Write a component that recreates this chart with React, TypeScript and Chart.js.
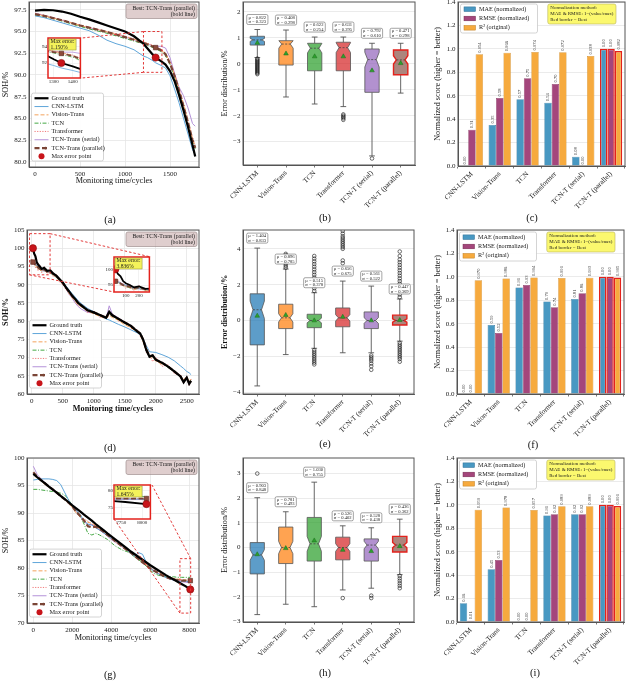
import React, { useEffect, useRef } from "react";
import { Chart, registerables } from "chart.js";

Chart.register(...registerables);

const SERIF = "'Liberation Serif', 'Times New Roman', 'DejaVu Serif', serif";

// ---------------- shared categories ----------------
const BOX_CATEGORIES = ["CNN-LSTM", "Vision-Trans", "TCN", "Transformer", "TCN-T (serial)", "TCN-T (parallel)"];
const LINE_LABELS = ["Ground truth", "CNN-LSTM", "Vision-Trans", "TCN", "Transformer", "TCN-Trans (serial)", "TCN-Trans (parallel)"];
const MAX_ERR_LABEL = "Max error point";
const BEST_TEXT = ["Best: TCN-Trans (parallel)", "(bold line)"];
const NOTE_TEXT = ["Normalization method:", "MAE & RMSE: 1\u2212(value/max)", "Red border = Best"];
const BAR_LABELS = ["MAE (normalized)", "RMSE (normalized)", "R\u00b2 (original)"];

// ---------------- panel (a) ----------------
const A_CYCLES = [0, 100, 200, 300, 400, 500, 600, 700, 800, 900, 1000, 1100, 1200, 1250, 1300, 1340, 1400, 1450, 1500, 1550, 1600, 1650, 1700, 1750, 1780];
const A_TRUTH = [97.4, 97.5, 97.45, 97.3, 97.05, 96.7, 96.4, 96.05, 95.7, 95.35, 95.0, 94.45, 93.65, 93.05, 92.45, 92.0, 91.6, 91.2, 90.45, 89.3, 87.7, 85.9, 84.0, 81.9, 80.6];
const A_CNN_LSTM = [96.8, 96.6, 96.3, 96.0, 95.7, 95.4, 95.1, 94.6, 94.0, 93.6, 93.3, 92.9, 92.2, 92.0, 91.7, 91.4, 91.1, 90.8, 89.9, 88.4, 86.8, 85.0, 83.2, 81.4, 80.8];
const A_VISION = [97.0, 96.8, 96.55, 96.3, 96.0, 95.7, 95.45, 95.2, 94.95, 94.7, 94.4, 94.1, 93.8, 93.6, 93.4, 93.2, 92.9, 92.4, 91.4, 90.0, 88.3, 86.5, 84.6, 82.6, 81.7];
const A_TCN = [96.9, 96.7, 96.5, 96.2, 95.9, 95.6, 95.3, 95.05, 94.8, 94.5, 94.2, 93.9, 93.6, 93.4, 93.2, 93.0, 92.7, 92.2, 91.2, 89.8, 88.1, 86.3, 84.4, 82.4, 81.5];
const A_TRANSFORMER = [97.1, 96.9, 96.6, 96.35, 96.05, 95.75, 95.5, 95.25, 95.0, 94.75, 94.45, 94.15, 93.85, 93.65, 93.45, 93.25, 92.95, 92.5, 91.6, 90.2, 88.5, 86.7, 84.8, 82.8, 81.9];
const A_SERIAL = [97.1, 96.85, 96.6, 96.3, 96.0, 95.7, 95.45, 95.2, 94.95, 94.65, 94.35, 94.05, 93.75, 93.55, 93.4, 93.3, 93.3, 93.1, 92.0, 90.2, 88.6, 87.6, 86.2, 84.4, 84.1];
const A_PARALLEL = [97.0, 96.8, 96.55, 96.3, 96.0, 95.7, 95.45, 95.2, 94.95, 94.65, 94.35, 94.05, 93.7, 93.5, 93.3, 93.15, 92.85, 92.4, 91.3, 89.9, 88.2, 86.4, 84.5, 82.5, 81.6];
const A_MAX_ERR = [1340, 92.0, 93.15]; // cycle, truth, prediction
const A_MAX_ERR_TEXT = ["Max error:", "1.150%"];
const A_X_RANGE = [-67, 1822];
const A_Y_RANGE = [79.4, 98.4];
const A_X_TICKS = [0, 500, 1000, 1500];
const A_Y_TICKS = [80, 82.5, 85, 87.5, 90, 92.5, 95, 97.5];
const A_ZOOM_X = [1270, 1440];
const A_ZOOM_Y = [90.2, 95.0];
const A_ZOOM_X_TICKS = [1300, 1400];
const A_ZOOM_Y_TICKS = [92, 94];
const A_RECT_X = [1205, 1410];
const A_RECT_Y = [90.3, 95.0];

// ---------------- panel (d) ----------------
const D_CYCLES = [0, 20, 40, 60, 80, 100, 130, 160, 200, 250, 300, 350, 400, 450, 500, 550, 600, 650, 700, 750, 800, 900, 1000, 1100, 1200, 1250, 1300, 1400, 1500, 1600, 1700, 1750, 1800, 1850, 1900, 1950, 2000, 2100, 2200, 2300, 2400, 2450, 2500, 2540, 2570];
const D_TRUTH = [99.5, 100.0, 98.5, 97.8, 96.2, 95.6, 95.0, 94.3, 94.6, 93.8, 93.9, 93.0, 92.4, 91.5, 90.6, 89.3, 88.2, 87.0, 86.1, 85.0, 84.3, 83.0, 82.4, 81.7, 80.9, 82.6, 81.6, 80.6, 79.6, 78.7, 77.2, 76.6, 74.8, 72.0, 70.2, 70.6, 69.4, 68.6, 67.5, 66.2, 64.8, 63.2, 64.5, 62.8, 63.6];
const D_CNN_LSTM = [96.5, 96.3, 96.0, 95.6, 95.2, 95.0, 94.6, 94.2, 93.9, 93.6, 93.3, 92.9, 92.3, 91.6, 90.8, 89.7, 88.6, 87.6, 86.6, 85.6, 84.8, 83.5, 82.6, 81.6, 80.6, 80.3, 79.9, 79.1, 78.4, 77.6, 76.8, 76.2, 75.0, 73.2, 71.6, 71.5, 71.4, 70.8, 70.1, 69.1, 67.7, 67.0, 66.2, 65.8, 65.3];
const D_VISION = [96.5, 96.8, 96.0, 95.6, 94.8, 94.7, 94.2, 93.6, 94.0, 93.2, 93.5, 92.7, 92.1, 91.0, 90.2, 89.1, 87.6, 86.5, 85.4, 84.4, 83.9, 82.8, 82.0, 81.3, 80.6, 81.6, 81.0, 80.2, 79.0, 78.2, 77.0, 76.1, 74.2, 71.8, 70.0, 70.3, 69.0, 68.2, 67.6, 66.3, 65.0, 63.9, 64.8, 63.5, 64.0];
const D_TCN = [96.2, 96.4, 95.8, 95.3, 94.9, 94.5, 94.1, 93.7, 93.9, 93.4, 93.2, 92.6, 91.9, 91.1, 90.3, 89.0, 87.9, 86.8, 85.8, 84.8, 84.0, 82.9, 82.1, 81.5, 80.8, 82.0, 81.3, 80.4, 79.4, 78.4, 77.0, 76.4, 74.6, 72.0, 70.4, 70.2, 69.3, 68.4, 67.3, 66.0, 64.8, 63.8, 64.5, 63.4, 63.8];
const D_TRANSFORMER = [97.0, 95.5, 96.8, 94.6, 95.5, 93.8, 95.3, 93.2, 95.0, 92.8, 94.2, 92.1, 92.8, 90.7, 90.8, 88.6, 88.5, 86.3, 86.4, 84.2, 84.7, 82.3, 82.8, 81.0, 81.4, 82.0, 81.9, 80.0, 79.9, 78.0, 77.6, 75.8, 75.2, 71.3, 70.8, 68.9, 70.1, 67.6, 68.0, 65.6, 65.3, 62.8, 64.9, 62.2, 64.1];
const D_SERIAL = [96.8, 96.5, 96.2, 95.8, 95.2, 94.8, 94.3, 93.8, 93.8, 93.5, 93.4, 92.8, 92.2, 91.4, 90.0, 89.0, 87.4, 86.4, 85.0, 84.0, 83.3, 82.4, 82.2, 81.4, 80.7, 84.2, 81.9, 80.9, 79.7, 78.8, 77.3, 76.5, 74.7, 71.9, 70.4, 70.5, 69.5, 68.5, 67.4, 66.2, 64.9, 63.6, 64.4, 63.0, 63.6];
const D_PARALLEL = [96.2, 96.2, 96.0, 95.5, 95.0, 94.8, 94.4, 94.0, 94.2, 93.6, 93.6, 92.9, 92.3, 91.4, 90.5, 89.2, 88.1, 87.0, 86.0, 85.0, 84.3, 83.0, 82.4, 81.7, 80.9, 82.3, 81.6, 80.6, 79.6, 78.7, 77.3, 76.6, 74.8, 72.2, 70.4, 70.6, 69.4, 68.6, 67.5, 66.2, 64.8, 63.4, 64.4, 63.0, 63.6];
const D_MAX_ERR = [20, 100.0, 96.2];
const D_MAX_ERR_TEXT = ["Max error:", "3.836%"];
const D_X_RANGE = [-76, 2698];
const D_Y_RANGE = [60, 105];
const D_X_TICKS = [0, 500, 1000, 1500, 2000, 2500];
const D_Y_TICKS = [60, 65, 70, 75, 80, 85, 90, 95, 100, 105];
const D_ZOOM_X = [10, 280];
const D_ZOOM_Y = [92.8, 103.9];
const D_ZOOM_X_TICKS = [100, 200];
const D_ZOOM_Y_TICKS = [95, 100];
const D_RECT_X = [-35, 296];
const D_RECT_Y = [92.7, 104.0];

// ---------------- panel (g) ----------------
const G_CYCLES = [0, 200, 400, 600, 800, 1000, 1200, 1400, 1600, 1800, 2000, 2200, 2400, 2600, 2800, 3000, 3200, 3400, 3600, 3800, 4000, 4200, 4400, 4600, 4800, 5000, 5200, 5400, 5600, 5800, 6000, 6200, 6400, 6600, 6800, 7000, 7200, 7400, 7600, 7800, 8050];
const G_TRUTH = [97.1, 96.5, 95.95, 95.4, 94.8, 94.25, 93.7, 93.1, 92.55, 92.0, 91.4, 90.85, 90.3, 89.7, 89.15, 88.6, 88.0, 87.45, 86.9, 86.3, 85.75, 85.2, 84.65, 84.1, 83.55, 83.0, 82.5, 82.0, 81.5, 81.0, 80.5, 80.05, 79.6, 79.15, 78.7, 78.3, 77.9, 77.5, 77.1, 76.7, 76.1];
const G_CNN_LSTM = [96.0, 96.1, 96.2, 96.2, 96.2, 96.1, 95.9, 95.2, 93.8, 92.4, 91.3, 90.5, 89.7, 88.6, 88.0, 87.8, 87.3, 86.9, 86.4, 85.9, 85.4, 85.0, 84.4, 83.9, 83.4, 82.6, 82.2, 82.8, 82.5, 81.0, 80.0, 79.4, 79.0, 78.6, 78.3, 78.0, 77.8, 77.7, 77.6, 77.6, 77.5];
const G_VISION = [97.0, 96.3, 95.8, 95.2, 94.7, 94.2, 93.6, 93.0, 92.4, 91.8, 91.0, 90.0, 89.3, 88.8, 88.3, 88.1, 87.8, 87.2, 86.7, 86.0, 85.4, 84.8, 84.3, 83.8, 83.4, 82.8, 82.3, 81.8, 81.2, 80.6, 80.0, 79.5, 79.2, 78.9, 78.6, 78.3, 78.1, 78.0, 77.9, 77.8, 77.8];
const G_TCN = [94.3, 94.3, 94.2, 94.1, 94.0, 93.9, 93.8, 93.6, 93.3, 92.5, 91.3, 90.4, 89.5, 88.0, 86.3, 86.0, 86.3, 86.0, 85.6, 85.2, 84.6, 84.0, 83.6, 83.2, 83.0, 82.6, 82.0, 81.5, 81.0, 80.3, 79.6, 79.0, 78.7, 78.5, 78.4, 78.4, 78.4, 78.3, 78.3, 78.3, 78.3];
const G_TRANSFORMER = [97.3, 96.6, 96.0, 95.5, 94.9, 94.3, 93.8, 93.2, 92.6, 92.0, 91.2, 90.4, 89.6, 88.9, 88.5, 88.0, 87.6, 87.0, 86.5, 85.9, 85.3, 84.8, 84.3, 83.8, 83.2, 82.7, 82.2, 81.6, 81.0, 80.5, 80.0, 79.6, 79.2, 78.8, 78.5, 78.2, 78.0, 77.9, 77.8, 77.7, 77.7];
const G_SERIAL = [98.5, 97.0, 96.2, 95.5, 94.9, 94.3, 93.8, 93.2, 92.6, 92.0, 91.3, 90.3, 89.3, 88.5, 87.8, 87.9, 87.5, 86.9, 86.4, 85.8, 85.2, 84.7, 84.2, 83.7, 83.2, 82.7, 82.1, 81.6, 81.0, 80.4, 79.9, 79.4, 79.0, 78.6, 78.3, 78.0, 77.8, 77.6, 77.5, 77.4, 77.4];
const G_PARALLEL = [97.4, 96.6, 96.0, 95.4, 94.8, 94.3, 93.7, 93.1, 92.5, 91.9, 91.2, 90.2, 89.5, 88.6, 87.6, 87.4, 87.5, 87.1, 86.6, 86.0, 85.5, 84.9, 84.4, 83.8, 83.3, 82.8, 82.2, 81.6, 81.0, 80.5, 79.9, 79.5, 79.1, 78.7, 78.4, 78.1, 77.9, 77.8, 77.7, 77.7, 77.7];
const G_MAX_ERR = [8050, 76.1, 77.7];
const G_MAX_ERR_TEXT = ["Max error:", "1.645%"];
const G_X_RANGE = [-324, 8497];
const G_Y_RANGE = [70, 100];
const G_X_TICKS = [0, 2000, 4000, 6000, 8000];
const G_Y_TICKS = [70, 75, 80, 85, 90, 95, 100];
const G_ZOOM_X = [7665, 8097];
const G_ZOOM_Y = [71.8, 81.6];
const G_ZOOM_X_TICKS = [7750, 8000];
const G_ZOOM_Y_TICKS = [75, 80];
const G_RECT_X = [7520, 8070];
const G_RECT_Y = [71.8, 81.7];

// ---------------- panel (b) box plot ----------------
const B_Q1 = [0.72, -0.05, -0.27, -0.27, -1.1, -0.42];
const B_MED = [0.92, 0.76, 0.6, 0.62, 0.16, 0.15];
const B_Q3 = [1.06, 0.89, 0.79, 0.83, 0.57, 0.53];
const B_LO = [0.24, -1.28, -1.55, -1.65, -3.55, -1.13];
const B_HI = [1.32, 1.3, 1.03, 1.03, 0.79, 0.79];
const B_MEAN = [0.8, 0.39, 0.28, 0.28, -0.26, 0.02];
const B_MU = ["0.822", "0.408", "0.622", "0.631", "0.792", "0.471"];
const B_SIGMA = ["0.323", "0.298", "0.254", "0.295", "0.610", "0.298"];
const B_OUTLIERS = [
  [0.2, 0.16, 0.12, 0.08, 0.04, 0.0, -0.04, -0.08, -0.12, -0.16, -0.2, -0.24, -0.28, -0.32, -0.36, -0.4],
  [],
  [],
  [-1.95, -2.0, -2.05, -2.1, -2.16],
  [-3.65],
  [],
];
const B_Y_RANGE = [-3.9, 2.38];
const B_Y_TICKS = [-3, -2, -1, 0, 1, 2];

// ---------------- panel (e) box plot ----------------
const E_Q1 = [-1.36, -0.45, -0.4, -0.35, -0.45, -0.25];
const E_MED = [0.6, 0.15, 0.0, 0.15, 0.0, 0.0];
const E_Q3 = [1.49, 0.91, 0.35, 0.7, 0.48, 0.3];
const E_LO = [-3.65, -1.9, -1.55, -1.8, -1.8, -1.15];
const E_HI = [4.04, 2.87, 1.55, 2.2, 1.92, 1.2];
const E_MEAN = [0.26, 0.3, 0.0, 0.2, 0.0, 0.02];
const E_MU = ["1.404", "0.896", "0.515", "0.656", "0.561", "0.447"];
const E_SIGMA = ["0.833", "0.785", "0.378", "0.675", "0.522", "0.369"];
const E_OUTLIERS = [
  [],
  [2.95, 3.05, 3.15, 3.25, 3.35, 3.45, 3.55, 3.65, 3.72],
  [1.65, 1.8, 1.95, 2.1, 2.25, 2.4, 2.55, 2.7, 2.85, 3.0, 3.15, 3.3, 3.45, 3.6, -1.65, -1.75, -1.85, -1.95, -2.05, -2.15, -2.25, -2.35, -2.45],
  [3.2, 3.35, 4.0, 4.1, 4.2, 4.3, 4.4, 4.5, 4.6, 4.7, 4.85, 5.0],
  [-1.95, -2.05, -2.15, -2.25, -2.4, -2.55, -2.75],
  [1.3, 1.45, 1.6, 1.75, 1.9, 2.05, 2.2, 2.35, 2.5, 2.65, 2.8, 2.95, 3.1, 3.25, 3.4, 3.6, 3.85, -1.25, -1.35, -1.45, -1.55, -1.65, -1.75, -1.85, -1.95, -2.05, -2.15, -2.3],
];
const E_Y_RANGE = [-4.1, 5.05];
const E_Y_TICKS = [-4, -2, 0, 2, 4];

// ---------------- panel (h) box plot ----------------
const H_Q1 = [-1.07, -0.65, -0.55, -0.5, -0.55, -0.18];
const H_MED = [-0.3, 0.0, 0.15, 0.0, 0.1, 0.1];
const H_Q3 = [0.2, 0.83, 1.22, 0.42, 0.35, 0.45];
const H_LO = [-2.72, -2.3, -2.4, -1.72, -1.65, -1.1];
const H_HI = [2.02, 1.45, 2.65, 0.88, 0.8, 1.15];
const H_MEAN = [-0.28, -0.03, 0.28, -0.1, -0.15, 0.05];
const H_MU = ["0.903", "0.781", "1.030", "0.526", "0.528", "0.436"];
const H_SIGMA = ["0.848", "0.493", "0.755", "0.402", "0.438", "0.362"];
const H_OUTLIERS = [[3.0], [], [], [-2.05], [-1.95, -2.05], [-1.15, -1.25, -1.35, -1.45, -1.55, -1.65]];
const H_Y_RANGE = [-3.02, 3.63];
const H_Y_TICKS = [-3, -2, -1, 0, 1, 2, 3];

// ---------------- bar panels ----------------
const C_MAE = [0.0, 0.35, 0.57, 0.54, 0.08, 1.0];
const C_RMSE = [0.31, 0.58, 0.75, 0.7, 0.0, 1.0];
const C_R2 = [0.954, 0.966, 0.974, 0.972, 0.938, 0.982];
const F_MAE = [0.0, 0.59, 0.91, 0.79, 0.81, 1.0];
const F_RMSE = [0.0, 0.52, 0.93, 0.74, 0.86, 1.0];
const F_R2 = [0.97, 0.986, 0.994, 0.991, 0.993, 0.995];
const I_MAE = [0.16, 0.45, 0.0, 0.91, 0.92, 1.0];
const I_RMSE = [0.01, 0.53, 0.0, 0.92, 0.92, 1.0];
const I_R2 = [0.959, 0.978, 0.957, 0.989, 0.989, 0.991];
const SCORE_RANGE = [0, 1.4];
const SCORE_TICKS = [0, 0.2, 0.4, 0.6, 0.8, 1.0, 1.2, 1.4];

// ---------------- styles ----------------
const LINE_STYLES = [
  { color: "#000000", width: 2.2, dash: [] as number[] },
  { color: "#4d9bd5", width: 0.9, dash: [] as number[] },
  { color: "#f3a35c", width: 1.0, dash: [4, 2] },
  { color: "#45a845", width: 1.0, dash: [4, 1.5, 1, 1.5] },
  { color: "#f07a7a", width: 1.0, dash: [1.2, 1.4] },
  { color: "#b592d9", width: 1.0, dash: [] as number[] },
  { color: "#7a4536", width: 2.2, dash: [5, 2.5] },
];
const MAX_ERR_COLOR = "#c8141a";
const BOX_FILLS = ["rgba(31,119,180,0.72)", "rgba(255,127,14,0.72)", "rgba(44,160,44,0.72)", "rgba(214,39,40,0.72)", "rgba(148,103,189,0.72)", "rgba(140,86,75,0.72)"];
const BAR_COLORS = ["#4898c2", "#a4467c", "#f6aa3e"];
const BAR_EDGES = ["#2c6d93", "#74284f", "#c07d1c"];
const BEST_RED = "#e3221c";
const FRAME_COLOR = "#555555";
const GRID_COLOR = "#e6e6e6";
const TEXT_COLOR = "#1a1a1a";

type Frame = { l: number; t: number; r: number; b: number };
type Geom = { left: number; top: number; width: number; height: number; yW: number; xH: number; padT: number; padR: number };

function geom(f: Frame, yW: number, xH: number, padT: number, padR: number): Geom {
  return { left: f.l - yW, top: f.t - padT, width: f.r + padR - (f.l - yW), height: f.b + xH - (f.t - padT), yW, xH, padT, padR };
}

function rrect(ctx: any, x: number, y: number, w: number, h: number, r: number) {
  ctx.beginPath();
  ctx.moveTo(x + r, y);
  ctx.lineTo(x + w - r, y);
  ctx.quadraticCurveTo(x + w, y, x + w, y + r);
  ctx.lineTo(x + w, y + h - r);
  ctx.quadraticCurveTo(x + w, y + h, x + w - r, y + h);
  ctx.lineTo(x + r, y + h);
  ctx.quadraticCurveTo(x, y + h, x, y + h - r);
  ctx.lineTo(x, y + r);
  ctx.quadraticCurveTo(x, y, x + r, y);
  ctx.closePath();
}

function framePlugin(color: string, width: number) {
  return {
    id: "frame",
    afterDraw(chart: any) {
      const { ctx, chartArea: a } = chart;
      ctx.save();
      ctx.strokeStyle = color;
      ctx.lineWidth = width;
      ctx.strokeRect(a.left, a.top, a.right - a.left, a.bottom - a.top);
      ctx.restore();
    },
  };
}

const whiteAreaPlugin = {
  id: "whiteArea",
  beforeDraw(chart: any) {
    const { ctx, chartArea: a } = chart;
    ctx.save();
    ctx.fillStyle = "#ffffff";
    ctx.fillRect(a.left, a.top, a.right - a.left, a.bottom - a.top);
    ctx.restore();
  },
};

function baseOptions(g: Geom) {
  return {
    responsive: false,
    animation: false,
    events: [],
    layout: { padding: { top: g.padT, right: g.padR, left: 0, bottom: 0 } },
    plugins: { legend: { display: false }, tooltip: { enabled: false } },
  };
}

function fmtNum(v: number, decimals: number) {
  const s = Number(v).toFixed(decimals);
  return s.startsWith("-") ? "\u2212" + s.slice(1) : s;
}

function valueAxis(g: Geom, axis: "x" | "y", range: number[], ticks: number[], decimals: number, title: string, bold: boolean, tickSize: number, grid: boolean) {
  return {
    type: "linear",
    bounds: "data",
    min: range[0],
    max: range[1],
    afterBuildTicks: (s: any) => {
      s.ticks = ticks.map((v) => ({ value: v }));
    },
    afterFit: (s: any) => {
      if (axis === "x") s.height = g.xH;
      else s.width = g.yW;
    },
    grid: { display: grid, color: GRID_COLOR, drawTicks: false, lineWidth: 0.8 },
    border: { display: true, color: FRAME_COLOR, width: 1 },
    ticks: {
      font: { family: SERIF, size: tickSize },
      color: TEXT_COLOR,
      padding: 2.5,
      maxRotation: 0,
      autoSkip: false,
      callback: (v: any) => fmtNum(v, decimals),
    },
    title: {
      display: title !== "",
      text: title,
      color: "#111",
      font: { family: SERIF, size: 8.2, weight: bold ? "bold" : "normal" },
      padding: { top: 1, bottom: 0 },
    },
  };
}

function categoryAxis(g: Geom) {
  return {
    type: "category",
    labels: BOX_CATEGORIES,
    offset: true,
    afterFit: (s: any) => {
      s.height = g.xH;
    },
    grid: { display: true, drawOnChartArea: false, drawTicks: true, tickLength: 2.5, color: FRAME_COLOR, lineWidth: 0.8 },
    border: { display: true, color: FRAME_COLOR, width: 1 },
    ticks: { font: { family: SERIF, size: 7.2 }, color: TEXT_COLOR, padding: 1.5, minRotation: 45, maxRotation: 45, autoSkip: false },
  };
}

// ---------------- line panels ----------------
type LinePanel = {
  cycles: number[];
  series: number[][];
  maxErr: number[];
  maxErrText: string[];
  xRange: number[];
  yRange: number[];
  xTicks: number[];
  yTicks: number[];
  yDecimals: number;
  zoomX: number[];
  zoomY: number[];
  zoomXTicks: number[];
  zoomYTicks: number[];
  rectX: number[];
  rectY: number[];
  bold: boolean;
  g: Geom;
  inset: Geom;
  insetFrame: Frame;
  pairs: string[][];
};

function lineDatasets(p: LinePanel, scale: number) {
  const ds: any[] = p.series.map((vals, i) => ({
    label: LINE_LABELS[i],
    data: p.cycles.map((c, j) => ({ x: c, y: vals[j] })),
    borderColor: LINE_STYLES[i].color,
    backgroundColor: LINE_STYLES[i].color,
    borderWidth: LINE_STYLES[i].width * scale,
    borderDash: LINE_STYLES[i].dash,
    pointRadius: 0,
    fill: false,
    tension: 0,
    order: i === 0 ? 2 : i === 6 ? 3 : 4,
  }));
  ds.push({
    label: MAX_ERR_LABEL,
    data: [{ x: p.maxErr[0], y: p.maxErr[1] }],
    showLine: false,
    pointRadius: 3.6,
    pointStyle: "circle",
    backgroundColor: MAX_ERR_COLOR,
    borderColor: "#8a0a0a",
    borderWidth: 0.6,
    order: 0,
  });
  ds.push({
    label: "prediction at max error",
    data: [{ x: p.maxErr[0], y: p.maxErr[2] }],
    showLine: false,
    pointRadius: 3.2,
    pointStyle: "rect",
    backgroundColor: "#8c4a3c",
    borderColor: "#5a2a20",
    borderWidth: 0.6,
    order: 1,
  });
  return ds;
}

function lineLegendPlugin() {
  return {
    id: "lineLegend",
    afterDraw(chart: any) {
      const { ctx, chartArea: a } = chart;
      const rowH = 8.3;
      const w = 72;
      const h = rowH * 8 + 1.5;
      const x0 = a.left + 2.5;
      const y0 = a.bottom - 6 - h;
      ctx.save();
      rrect(ctx, x0, y0, w, h, 2);
      ctx.fillStyle = "rgba(255,255,255,0.92)";
      ctx.fill();
      ctx.strokeStyle = "#c9c9c9";
      ctx.lineWidth = 0.8;
      ctx.stroke();
      ctx.font = `6.3px ${SERIF}`;
      ctx.textBaseline = "middle";
      ctx.textAlign = "left";
      LINE_LABELS.forEach((label, i) => {
        const st = LINE_STYLES[i];
        const y = y0 + 1 + rowH * (i + 0.5);
        ctx.save();
        ctx.strokeStyle = st.color;
        ctx.lineWidth = st.width;
        ctx.setLineDash(st.dash);
        ctx.beginPath();
        ctx.moveTo(x0 + 3, y);
        ctx.lineTo(x0 + 17, y);
        ctx.stroke();
        if (i === 6) {
          ctx.setLineDash([]);
          ctx.fillStyle = st.color;
          ctx.beginPath();
          ctx.arc(x0 + 14, y, 1.4, 0, Math.PI * 2);
          ctx.fill();
        }
        ctx.restore();
        ctx.fillStyle = TEXT_COLOR;
        ctx.fillText(label, x0 + 20, y);
      });
      const y = y0 + 1 + rowH * 7.5;
      ctx.beginPath();
      ctx.arc(x0 + 10, y, 3, 0, Math.PI * 2);
      ctx.fillStyle = MAX_ERR_COLOR;
      ctx.fill();
      ctx.fillStyle = TEXT_COLOR;
      ctx.fillText(MAX_ERR_LABEL, x0 + 20, y);
      ctx.restore();
    },
  };
}

const bestBoxPlugin = {
  id: "bestBox",
  afterDraw(chart: any) {
    const { ctx, chartArea: a } = chart;
    const w = 71;
    const h = 14.5;
    const x0 = a.right - 2 - w;
    const y0 = a.top + 2;
    ctx.save();
    rrect(ctx, x0, y0, w, h, 2);
    ctx.fillStyle = "rgba(196,165,165,0.55)";
    ctx.fill();
    ctx.strokeStyle = "#a09090";
    ctx.lineWidth = 0.7;
    ctx.stroke();
    ctx.font = `5.8px ${SERIF}`;
    ctx.fillStyle = TEXT_COLOR;
    ctx.textAlign = "right";
    ctx.textBaseline = "middle";
    ctx.fillText(BEST_TEXT[0], x0 + w - 2, y0 + 4.2);
    ctx.fillText(BEST_TEXT[1], x0 + w - 2, y0 + 10.4);
    ctx.restore();
  },
};

function zoomMarkPlugin(p: LinePanel) {
  return {
    id: "zoomMark",
    afterDatasetsDraw(chart: any) {
      const { ctx } = chart;
      const xs = chart.scales.x;
      const ys = chart.scales.y;
      const L = xs.getPixelForValue(p.rectX[0]);
      const R = xs.getPixelForValue(p.rectX[1]);
      const T = ys.getPixelForValue(p.rectY[1]);
      const B = ys.getPixelForValue(p.rectY[0]);
      const f = p.insetFrame;
      const il = f.l - p.g.left;
      const ir = f.r - p.g.left;
      const it = f.t - p.g.top;
      const ib = f.b - p.g.top;
      const rc: any = { tl: [L, T], tr: [R, T], bl: [L, B], br: [R, B] };
      const ic: any = { tl: [il, it], tr: [ir, it], bl: [il, ib], br: [ir, ib] };
      ctx.save();
      ctx.strokeStyle = "#e23a3a";
      ctx.lineWidth = 1;
      ctx.setLineDash([2.5, 2]);
      ctx.strokeRect(L, T, R - L, B - T);
      p.pairs.forEach(([a, b]) => {
        ctx.beginPath();
        ctx.moveTo(rc[a][0], rc[a][1]);
        ctx.lineTo(ic[b][0], ic[b][1]);
        ctx.stroke();
      });
      ctx.restore();
    },
  };
}

function maxErrLabelPlugin(lines: string[]) {
  return {
    id: "maxErrLabel",
    afterDraw(chart: any) {
      const { ctx, chartArea: a } = chart;
      ctx.save();
      ctx.font = `5.6px ${SERIF}`;
      const w = Math.max(...lines.map((s) => ctx.measureText(s).width)) + 3;
      const h = 11;
      const x0 = a.left + 1;
      const y0 = a.top + 1;
      ctx.fillStyle = "#f4f25a";
      ctx.fillRect(x0, y0, w, h);
      ctx.strokeStyle = "#9a9a40";
      ctx.lineWidth = 0.6;
      ctx.strokeRect(x0, y0, w, h);
      ctx.fillStyle = TEXT_COLOR;
      ctx.textBaseline = "middle";
      ctx.textAlign = "left";
      ctx.fillText(lines[0], x0 + 1.5, y0 + 3);
      ctx.fillText(lines[1], x0 + 1.5, y0 + 8.2);
      ctx.restore();
    },
  };
}

function lineMainConfig(p: LinePanel) {
  return {
    type: "line",
    data: { datasets: lineDatasets(p, 1) },
    options: {
      ...baseOptions(p.g),
      scales: {
        x: valueAxis(p.g, "x", p.xRange, p.xTicks, 0, "Monitoring time/cycles", p.bold, 7, true),
        y: valueAxis(p.g, "y", p.yRange, p.yTicks, p.yDecimals, "SOH/%", p.bold, 7, true),
      },
    },
    plugins: [zoomMarkPlugin(p), framePlugin(FRAME_COLOR, 1), lineLegendPlugin(), bestBoxPlugin],
  };
}

function lineInsetConfig(p: LinePanel) {
  const xa: any = valueAxis(p.inset, "x", p.zoomX, p.zoomXTicks, 0, "", false, 5, true);
  const ya: any = valueAxis(p.inset, "y", p.zoomY, p.zoomYTicks, 0, "", false, 5, true);
  xa.ticks.padding = 1;
  ya.ticks.padding = 1;
  xa.border.display = false;
  ya.border.display = false;
  xa.grid.color = "#efefef";
  ya.grid.color = "#efefef";
  return {
    type: "line",
    data: { datasets: lineDatasets(p, 0.8) },
    options: {
      ...baseOptions(p.inset),
      scales: { x: xa, y: ya },
    },
    plugins: [whiteAreaPlugin, framePlugin(BEST_RED, 1.5), maxErrLabelPlugin(p.maxErrText)],
  };
}

// ---------------- box panels ----------------
type BoxPanel = {
  q1: number[];
  med: number[];
  q3: number[];
  lo: number[];
  hi: number[];
  mean: number[];
  mu: string[];
  sigma: string[];
  outliers: number[][];
  yRange: number[];
  yTicks: number[];
  bold: boolean;
  g: Geom;
};

function boxDrawPlugin(p: BoxPanel) {
  return {
    id: "boxes",
    beforeDatasetsDraw(chart: any) {
      const { ctx } = chart;
      const xs = chart.scales.x;
      const ys = chart.scales.y;
      const step = xs.getPixelForValue(1) - xs.getPixelForValue(0);
      const hw = step * 0.25;
      const capW = step * 0.1;
      p.q1.forEach((q1, i) => {
        const cx = xs.getPixelForValue(i);
        const y1 = ys.getPixelForValue(q1);
        const y3 = ys.getPixelForValue(p.q3[i]);
        const ym = ys.getPixelForValue(p.med[i]);
        const ylo = ys.getPixelForValue(p.lo[i]);
        const yhi = ys.getPixelForValue(p.hi[i]);
        const nh = Math.abs(y1 - y3) * 0.17;
        const nT = Math.max(ym - nh, y3);
        const nB = Math.min(ym + nh, y1);
        const ni = hw * 0.4;
        ctx.save();
        ctx.strokeStyle = "#555";
        ctx.lineWidth = 0.9;
        ctx.beginPath();
        ctx.moveTo(cx, y3);
        ctx.lineTo(cx, yhi);
        ctx.moveTo(cx, y1);
        ctx.lineTo(cx, ylo);
        ctx.moveTo(cx - capW, yhi);
        ctx.lineTo(cx + capW, yhi);
        ctx.moveTo(cx - capW, ylo);
        ctx.lineTo(cx + capW, ylo);
        ctx.stroke();
        ctx.beginPath();
        ctx.moveTo(cx - hw, y1);
        ctx.lineTo(cx - hw, nB);
        ctx.lineTo(cx - hw + ni, ym);
        ctx.lineTo(cx - hw, nT);
        ctx.lineTo(cx - hw, y3);
        ctx.lineTo(cx + hw, y3);
        ctx.lineTo(cx + hw, nT);
        ctx.lineTo(cx + hw - ni, ym);
        ctx.lineTo(cx + hw, nB);
        ctx.lineTo(cx + hw, y1);
        ctx.closePath();
        ctx.fillStyle = BOX_FILLS[i];
        ctx.fill();
        ctx.strokeStyle = i === 5 ? BEST_RED : "#555";
        ctx.lineWidth = i === 5 ? 1.4 : 0.8;
        ctx.stroke();
        ctx.setLineDash([2, 1.5]);
        ctx.strokeStyle = "#444";
        ctx.lineWidth = 0.8;
        ctx.beginPath();
        ctx.moveTo(cx - hw + ni, ym);
        ctx.lineTo(cx + hw - ni, ym);
        ctx.stroke();
        ctx.restore();
      });
    },
    afterDatasetsDraw(chart: any) {
      const { ctx } = chart;
      const xs = chart.scales.x;
      const ys = chart.scales.y;
      ctx.save();
      ctx.font = `4.6px ${SERIF}`;
      p.mu.forEach((mu, i) => {
        const cx = xs.getPixelForValue(i);
        const yhi = ys.getPixelForValue(p.hi[i]);
        const l1 = `\u03bc = ${mu}`;
        const l2 = `\u03c3 = ${p.sigma[i]}`;
        const w = Math.max(ctx.measureText(l1).width, ctx.measureText(l2).width) + 3.5;
        const h = 10;
        const x0 = cx - w / 2;
        const y0 = yhi - 5 - h;
        rrect(ctx, x0, y0, w, h, 1.5);
        ctx.fillStyle = "rgba(255,255,255,0.95)";
        ctx.fill();
        ctx.strokeStyle = "#666";
        ctx.lineWidth = 0.6;
        ctx.stroke();
        ctx.fillStyle = TEXT_COLOR;
        ctx.textAlign = "left";
        ctx.textBaseline = "middle";
        ctx.fillText(l1, x0 + 1.7, y0 + 2.8);
        ctx.fillText(l2, x0 + 1.7, y0 + 7.4);
      });
      ctx.restore();
    },
  };
}

function boxConfig(p: BoxPanel) {
  return {
    type: "scatter",
    data: {
      labels: BOX_CATEGORIES,
      datasets: [
        {
          label: "mean",
          data: p.mean.map((m, i) => ({ x: BOX_CATEGORIES[i], y: m })),
          pointStyle: "triangle",
          pointRadius: 2.7,
          backgroundColor: "#2ca02c",
          borderColor: "#1d6e1d",
          borderWidth: 0.5,
          order: 0,
        },
        {
          label: "outliers",
          data: p.outliers.flatMap((arr, i) => arr.map((v) => ({ x: BOX_CATEGORIES[i], y: v }))),
          pointStyle: "circle",
          pointRadius: 1.8,
          backgroundColor: "rgba(255,255,255,0)",
          borderColor: "#111",
          borderWidth: 0.6,
          order: 1,
        },
      ],
    },
    options: {
      ...baseOptions(p.g),
      scales: {
        x: categoryAxis(p.g),
        y: valueAxis(p.g, "y", p.yRange, p.yTicks, 0, "Error distribution/%", p.bold, 7, true),
      },
    },
    plugins: [boxDrawPlugin(p), framePlugin(FRAME_COLOR, 1)],
  };
}

// ---------------- bar panels ----------------
type BarPanel = { mae: number[]; rmse: number[]; r2: number[]; g: Geom };

const barLabelPlugin = {
  id: "barLabels",
  afterDatasetsDraw(chart: any) {
    const { ctx } = chart;
    ctx.save();
    ctx.font = `4.6px ${SERIF}`;
    ctx.fillStyle = "#333";
    chart.data.datasets.forEach((ds: any, di: number) => {
      const meta = chart.getDatasetMeta(di);
      meta.data.forEach((el: any, i: number) => {
        const v = ds.data[i];
        const txt = di === 2 ? v.toFixed(3) : v.toFixed(2);
        ctx.save();
        ctx.translate(el.x, el.y - 1.5);
        ctx.rotate(-Math.PI / 2);
        ctx.textAlign = "left";
        ctx.textBaseline = "middle";
        ctx.fillText(txt, 0, 0);
        ctx.restore();
      });
    });
    ctx.restore();
  },
};

const barLegendPlugin = {
  id: "barLegend",
  afterDraw(chart: any) {
    const { ctx, chartArea: a } = chart;
    const x0 = a.left + 2.5;
    const y0 = a.top + 2;
    const w = 77;
    const h = 29;
    ctx.save();
    rrect(ctx, x0, y0, w, h, 2);
    ctx.fillStyle = "rgba(255,255,255,0.92)";
    ctx.fill();
    ctx.strokeStyle = "#c9c9c9";
    ctx.lineWidth = 0.8;
    ctx.stroke();
    ctx.font = `6.2px ${SERIF}`;
    ctx.textAlign = "left";
    ctx.textBaseline = "middle";
    BAR_LABELS.forEach((label, i) => {
      const y = y0 + 5.2 + i * 9.3;
      ctx.fillStyle = BAR_COLORS[i];
      ctx.fillRect(x0 + 3.5, y - 2.3, 11.5, 4.6);
      ctx.strokeStyle = BAR_EDGES[i];
      ctx.lineWidth = 0.5;
      ctx.strokeRect(x0 + 3.5, y - 2.3, 11.5, 4.6);
      ctx.fillStyle = TEXT_COLOR;
      ctx.fillText(label, x0 + 18.5, y);
    });
    ctx.restore();
  },
};

const noteBoxPlugin = {
  id: "noteBox",
  afterDraw(chart: any) {
    const { ctx, chartArea: a } = chart;
    ctx.save();
    ctx.font = `5px ${SERIF}`;
    const w = Math.max(...NOTE_TEXT.map((s) => ctx.measureText(s).width)) + 5;
    const h = 20;
    const x0 = a.right - 9 - w;
    const y0 = a.top + 2;
    rrect(ctx, x0, y0, w, h, 2);
    ctx.fillStyle = "#fbf86e";
    ctx.fill();
    ctx.strokeStyle = "#b8b460";
    ctx.lineWidth = 0.6;
    ctx.stroke();
    ctx.fillStyle = TEXT_COLOR;
    ctx.textAlign = "left";
    ctx.textBaseline = "middle";
    NOTE_TEXT.forEach((s, i) => ctx.fillText(s, x0 + 2.5, y0 + 4 + i * 6));
    ctx.restore();
  },
};

function barConfig(p: BarPanel) {
  const mk = (label: string, data: number[], k: number) => ({
    label,
    data,
    backgroundColor: BAR_COLORS[k],
    borderColor: data.map((_, i) => (i === 5 ? BEST_RED : BAR_EDGES[k])),
    borderWidth: data.map((_, i) => (i === 5 ? 1.5 : 0.5)),
    categoryPercentage: 0.8,
    barPercentage: 1.0,
  });
  return {
    type: "bar",
    data: {
      labels: BOX_CATEGORIES,
      datasets: [mk(BAR_LABELS[0], p.mae, 0), mk(BAR_LABELS[1], p.rmse, 1), mk(BAR_LABELS[2], p.r2, 2)],
    },
    options: {
      ...baseOptions(p.g),
      scales: {
        x: categoryAxis(p.g),
        y: valueAxis(p.g, "y", SCORE_RANGE, SCORE_TICKS, 1, "Normalized score (higher = better)", false, 7, true),
      },
    },
    plugins: [barLabelPlugin, framePlugin(FRAME_COLOR, 1), barLegendPlugin, noteBoxPlugin],
  };
}

// ---------------- geometry ----------------
const G_A = geom({ l: 29, t: 2, r: 199, b: 167 }, 29, 19, 8, 10);
const G_B = geom({ l: 243, t: 2, r: 415, b: 165 }, 24, 50, 8, 8);
const G_C = geom({ l: 458, t: 2, r: 625, b: 166 }, 26, 50, 8, 12);
const G_D = geom({ l: 27, t: 230, r: 199, b: 394 }, 27, 20, 8, 10);
const G_E = geom({ l: 243, t: 230, r: 414, b: 394 }, 24, 50, 8, 9);
const G_F = geom({ l: 457, t: 230, r: 624, b: 394 }, 25, 50, 8, 13);
const G_G = geom({ l: 27, t: 458, r: 199, b: 623 }, 27, 20, 8, 10);
const G_H = geom({ l: 243, t: 458, r: 414, b: 622 }, 24, 50, 8, 9);
const G_I = geom({ l: 457, t: 458, r: 624, b: 622 }, 25, 50, 8, 13);
const INSET_A: Frame = { l: 48, t: 38, r: 82, b: 78 };
const INSET_D: Frame = { l: 114, t: 257, r: 151, b: 292 };
const INSET_G: Frame = { l: 114, t: 485, r: 152, b: 519 };

const PANEL_A: LinePanel = {
  cycles: A_CYCLES,
  series: [A_TRUTH, A_CNN_LSTM, A_VISION, A_TCN, A_TRANSFORMER, A_SERIAL, A_PARALLEL],
  maxErr: A_MAX_ERR, maxErrText: A_MAX_ERR_TEXT,
  xRange: A_X_RANGE, yRange: A_Y_RANGE, xTicks: A_X_TICKS, yTicks: A_Y_TICKS, yDecimals: 1,
  zoomX: A_ZOOM_X, zoomY: A_ZOOM_Y, zoomXTicks: A_ZOOM_X_TICKS, zoomYTicks: A_ZOOM_Y_TICKS,
  rectX: A_RECT_X, rectY: A_RECT_Y, bold: false, g: G_A,
  inset: geom(INSET_A, 10, 8, 5, 3), insetFrame: INSET_A,
  pairs: [["tl", "tr"], ["bl", "br"]],
};
const PANEL_D: LinePanel = {
  cycles: D_CYCLES,
  series: [D_TRUTH, D_CNN_LSTM, D_VISION, D_TCN, D_TRANSFORMER, D_SERIAL, D_PARALLEL],
  maxErr: D_MAX_ERR, maxErrText: D_MAX_ERR_TEXT,
  xRange: D_X_RANGE, yRange: D_Y_RANGE, xTicks: D_X_TICKS, yTicks: D_Y_TICKS, yDecimals: 0,
  zoomX: D_ZOOM_X, zoomY: D_ZOOM_Y, zoomXTicks: D_ZOOM_X_TICKS, zoomYTicks: D_ZOOM_Y_TICKS,
  rectX: D_RECT_X, rectY: D_RECT_Y, bold: true, g: G_D,
  inset: geom(INSET_D, 10, 8, 5, 3), insetFrame: INSET_D,
  pairs: [["tr", "tr"], ["bl", "bl"]],
};
const PANEL_G: LinePanel = {
  cycles: G_CYCLES,
  series: [G_TRUTH, G_CNN_LSTM, G_VISION, G_TCN, G_TRANSFORMER, G_SERIAL, G_PARALLEL],
  maxErr: G_MAX_ERR, maxErrText: G_MAX_ERR_TEXT,
  xRange: G_X_RANGE, yRange: G_Y_RANGE, xTicks: G_X_TICKS, yTicks: G_Y_TICKS, yDecimals: 0,
  zoomX: G_ZOOM_X, zoomY: G_ZOOM_Y, zoomXTicks: G_ZOOM_X_TICKS, zoomYTicks: G_ZOOM_Y_TICKS,
  rectX: G_RECT_X, rectY: G_RECT_Y, bold: false, g: G_G,
  inset: geom(INSET_G, 10, 8, 5, 3), insetFrame: INSET_G,
  pairs: [["tr", "tr"], ["bl", "bl"]],
};

const PANEL_B: BoxPanel = { q1: B_Q1, med: B_MED, q3: B_Q3, lo: B_LO, hi: B_HI, mean: B_MEAN, mu: B_MU, sigma: B_SIGMA, outliers: B_OUTLIERS, yRange: B_Y_RANGE, yTicks: B_Y_TICKS, bold: false, g: G_B };
const PANEL_E: BoxPanel = { q1: E_Q1, med: E_MED, q3: E_Q3, lo: E_LO, hi: E_HI, mean: E_MEAN, mu: E_MU, sigma: E_SIGMA, outliers: E_OUTLIERS, yRange: E_Y_RANGE, yTicks: E_Y_TICKS, bold: true, g: G_E };
const PANEL_H: BoxPanel = { q1: H_Q1, med: H_MED, q3: H_Q3, lo: H_LO, hi: H_HI, mean: H_MEAN, mu: H_MU, sigma: H_SIGMA, outliers: H_OUTLIERS, yRange: H_Y_RANGE, yTicks: H_Y_TICKS, bold: false, g: G_H };

const PANEL_C: BarPanel = { mae: C_MAE, rmse: C_RMSE, r2: C_R2, g: G_C };
const PANEL_F: BarPanel = { mae: F_MAE, rmse: F_RMSE, r2: F_R2, g: G_F };
const PANEL_I: BarPanel = { mae: I_MAE, rmse: I_RMSE, r2: I_R2, g: G_I };

const PANEL_LETTERS = [
  { text: "(a)", x: 110, y: 220 },
  { text: "(b)", x: 325, y: 218 },
  { text: "(c)", x: 532, y: 218 },
  { text: "(d)", x: 110, y: 448 },
  { text: "(e)", x: 325, y: 444 },
  { text: "(f)", x: 533, y: 445 },
  { text: "(g)", x: 110, y: 675 },
  { text: "(h)", x: 325, y: 673 },
  { text: "(i)", x: 535, y: 673 },
];

function ChartCanvas({ g, make }: { g: Geom; make: () => any }) {
  const ref = useRef<HTMLCanvasElement>(null);
  useEffect(() => {
    const chart = new Chart(ref.current as HTMLCanvasElement, make());
    return () => chart.destroy();
  }, []);
  return (
    <canvas
      ref={ref}
      width={g.width}
      height={g.height}
      style={{ position: "absolute", left: g.left, top: g.top, width: g.width, height: g.height }}
    />
  );
}

export default function App() {
  return (
    <div style={{ position: "absolute", left: 0, top: 0, width: 639, height: 689, background: "#ffffff", overflow: "hidden" }}>
      <ChartCanvas g={G_A} make={() => lineMainConfig(PANEL_A)} />
      <ChartCanvas g={PANEL_A.inset} make={() => lineInsetConfig(PANEL_A)} />
      <ChartCanvas g={G_B} make={() => boxConfig(PANEL_B)} />
      <ChartCanvas g={G_C} make={() => barConfig(PANEL_C)} />
      <ChartCanvas g={G_D} make={() => lineMainConfig(PANEL_D)} />
      <ChartCanvas g={PANEL_D.inset} make={() => lineInsetConfig(PANEL_D)} />
      <ChartCanvas g={G_E} make={() => boxConfig(PANEL_E)} />
      <ChartCanvas g={G_F} make={() => barConfig(PANEL_F)} />
      <ChartCanvas g={G_G} make={() => lineMainConfig(PANEL_G)} />
      <ChartCanvas g={PANEL_G.inset} make={() => lineInsetConfig(PANEL_G)} />
      <ChartCanvas g={G_H} make={() => boxConfig(PANEL_H)} />
      <ChartCanvas g={G_I} make={() => barConfig(PANEL_I)} />
      {PANEL_LETTERS.map((l) => (
        <div
          key={l.text}
          style={{ position: "absolute", left: l.x - 20, top: l.y - 7, width: 40, height: 14, lineHeight: "14px", textAlign: "center", fontFamily: SERIF, fontSize: 10.5, color: "#111" }}
        >
          {l.text}
        </div>
      ))}
    </div>
  );
}
